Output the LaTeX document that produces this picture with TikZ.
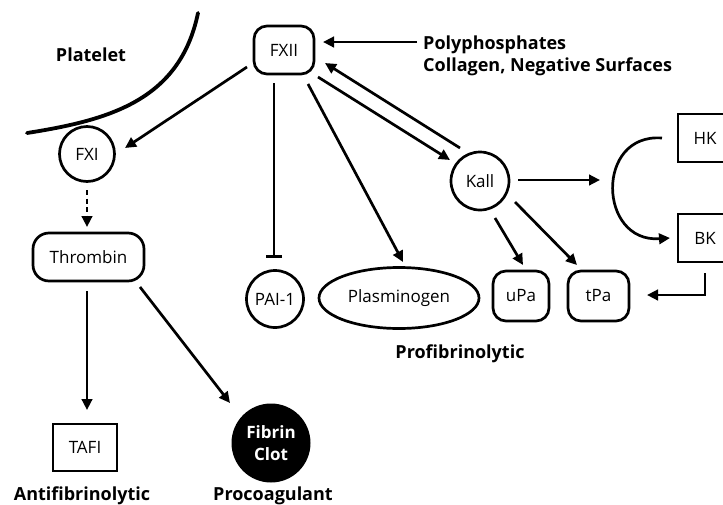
\documentclass[tikz,border=0pt]{standalone}
\usepackage{fontspec}
\setmainfont{Open Sans}
\usetikzlibrary{arrows.meta,shapes.geometric,calc}
\begin{document}
\begin{tikzpicture}[x=1pt,y=-1pt,
  every node/.style={font=\fontsize{17}{19}\selectfont, inner sep=0pt},
  ln/.style={line width=2.7pt},
  arr/.style={ln,-{Triangle[length=11pt,width=10.5pt]}},
  inh/.style={ln,-{Bar[width=16pt]}},
  circ/.style={draw,ln,circle,minimum size=55pt},
  rbox/.style={draw,ln,rounded corners=13pt,rectangle},
  sbox/.style={draw,ln,rectangle},
  lbl/.style={font=\fontsize{18}{21}\selectfont\bfseries},
]
\useasboundingbox (0,0) rectangle (723,504);

% platelet membrane
\draw[line width=3.8pt,line cap=round] (27,133) .. controls (110,120) and (180,100) .. (198,13);

% nodes
\node[circ] (FXI) at (87,154) {FXI};
\node[rbox,minimum width=60pt,minimum height=48pt] (FXII) at (284,50) {FXII};
\node[circ,minimum size=58pt] (Kall) at (480,181) {Kall};
\node[circ,minimum size=57pt] (PAI) at (275,299) {PAI-1};
\node[draw,ln,ellipse,minimum width=160pt,minimum height=61pt] (Plas) at (399,298) {Plasminogen};
\node[rbox,minimum width=56pt,minimum height=50pt] (uPa) at (521,296) {uPa};
\node[rbox,minimum width=61pt,minimum height=50pt] (tPa) at (598.5,296) {tPa};
\node[sbox,minimum width=54pt,minimum height=48pt] (HK) at (705,138) {HK};
\node[sbox,minimum width=54pt,minimum height=48pt] (BK) at (705,238) {BK};
\node[rbox,rounded corners=16pt,minimum width=111pt,minimum height=48pt] (Thr) at (88.5,257) {Thrombin};
\node[sbox,minimum width=64pt,minimum height=47pt] (TAFI) at (85,447.5) {TAFI};
\node[circle,fill=black,minimum size=79pt,text=white,align=center,
      font=\fontsize{17}{22}\selectfont\bfseries] (Fib) at (271,443) {Fibrin\\Clot};

% labels
\node[lbl,anchor=base] (plt) at (91,61) {Platelet};
\node[lbl,anchor=base west] (poly) at (423,49) {Polyphosphates};
\node[lbl,anchor=base west] (coll) at (423,71) {Collagen, Negative Surfaces};
\node[lbl,anchor=base] (prof) at (460,358) {Profibrinolytic};
\node[lbl,anchor=base] (anti) at (82,500) {Antifibrinolytic};
\node[lbl,anchor=base] (proc) at (273,500) {Procoagulant};

% connectors
\draw[arr] ([shift={(-6,-7)}]poly.base west) -- ([shift={(39,-8)}]FXII.center);
\draw[arr] ([shift={(-37,17)}]FXII.center) -- ([shift={(38,-6)}]FXI.center);
\draw[arr] ([shift={(34,27)}]FXII.center) -- ([shift={(-30,-21)}]Kall.center);
\draw[arr] ([shift={(-20,-33)}]Kall.center) -- ([shift={(41,13)}]FXII.center);
\draw[inh] ([shift={(-10,33)}]FXII.center) -- ([shift={(-1,-41)}]PAI.center);
\draw[arr] ([shift={(24,34)}]FXII.center) -- ([shift={(4,-36)}]Plas.center);
\draw[arr] ([shift={(15,37)}]Kall.center) -- ([shift={(2,-31)}]uPa.center);
\draw[arr] ([shift={(35,21)}]Kall.center) -- ([shift={(-21.5,-31)}]tPa.center);
\coordinate (arcIn) at (600,180);
\draw[arr] ([shift={(38,-1)}]Kall.center) -- (arcIn);
\draw[arr] ([shift={(-43,0)}]HK.center) .. controls (595,133) and (598,243) .. ([shift={(-35,0)}]BK.center);
\draw[arr] ([shift={(0,35)}]BK.center) |- ([shift={(48.5,-1)}]tPa.center);
\draw[arr,dash pattern=on 5pt off 3.5pt] ([shift={(0,36)}]FXI.center) -- ([shift={(-1.5,-30)}]Thr.center);
\draw[arr] ([shift={(-1.5,34)}]Thr.center) -- ([shift={(2,-37.5)}]TAFI.center);
\draw[arr] ([shift={(51.5,30)}]Thr.center) -- ([shift={(-41,-40)}]Fib.center);
\end{tikzpicture}
\end{document}
